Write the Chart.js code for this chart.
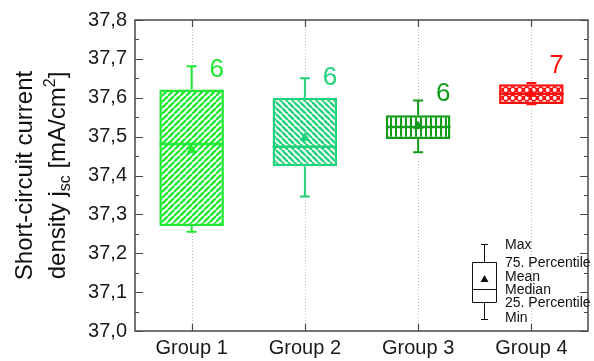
<!DOCTYPE html>
<html>
<head>
<meta charset="utf-8">
<script src="https://cdn.jsdelivr.net/npm/chart.js@4/dist/chart.umd.min.js"></script>
<style>
  html, body { margin: 0; padding: 0; background: #ffffff; }
  #wrap { width: 594px; height: 361px; }
</style>
</head>
<body>
<div id="wrap"><canvas id="c" width="594" height="361"></canvas></div>
<script>
// ---- data ----
const groups      = ['Group 1', 'Group 2', 'Group 3', 'Group 4'];
const minVals     = [37.255, 37.346, 37.460, 37.583];
const q1Vals      = [37.270, 37.424, 37.494, 37.584];
const medianVals  = [37.481, 37.474, 37.525, 37.610];
const meanVals    = [37.465, 37.497, 37.527, 37.610];
const q3Vals      = [37.621, 37.600, 37.555, 37.635];
const maxVals     = [37.681, 37.650, 37.593, 37.638];
const counts      = ['6', '6', '6', '7'];
const countLabelY = [37.673, 37.652, 37.609, 37.683];
const yMin = 37.0, yMax = 37.8, yStep = 0.1, yMinorStep = 0.05;
const legendLabels = ['Max', '75. Percentile', 'Mean', 'Median', '25. Percentile', 'Min'];

const colors   = ['#1fe833', '#20d27a', '#109c18', '#ff0e0e'];
const hatches  = ['fwd', 'back', 'vert', 'dots'];
const FONT = "'Liberation Sans', Arial, sans-serif";

const canvas = document.getElementById('c');
const ctx = canvas.getContext('2d');

function makePattern(color, kind) {
  const t = document.createElement('canvas');
  let w = 6, h = 6;
  if (kind === 'vert') { w = 5; h = 5; }
  if (kind === 'dots') { w = 7; h = 8; }
  t.width = w; t.height = h;
  const g = t.getContext('2d');
  g.fillStyle = '#ffffff'; g.fillRect(0, 0, w, h);
  g.strokeStyle = color; g.fillStyle = color; g.lineWidth = 2.3;
  if (kind === 'fwd') {
    g.beginPath();
    for (const o of [-w, 0, w]) { g.moveTo(o, h); g.lineTo(o + w, 0); }
    g.stroke();
  } else if (kind === 'back') {
    g.beginPath();
    for (const o of [-w, 0, w]) { g.moveTo(o, 0); g.lineTo(o + w, h); }
    g.stroke();
  } else if (kind === 'vert') {
    g.fillRect(0, 0, 2, h);
  } else if (kind === 'dots') {
    g.fillRect(0, 0, w, h);
    g.fillStyle = '#ffffff';
    g.beginPath(); g.arc(1.75, 2, 1.9, 0, Math.PI * 2); g.fill();
    g.beginPath(); g.arc(5.25, 6, 1.9, 0, Math.PI * 2); g.fill();
  }
  return ctx.createPattern(t, 'repeat');
}
const patterns = colors.map((c, i) => makePattern(c, hatches[i]));

const FRAME = '#4a4a4a';

const boxPlugin = {
  id: 'boxExtras',
  beforeDatasetsDraw(chart) {
    const { ctx, chartArea: a, scales: { x } } = chart;
    ctx.save();
    ctx.strokeStyle = '#bdbdbd';
    ctx.lineWidth = 1;
    ctx.setLineDash([1, 2]);
    groups.forEach((g, i) => {
      const px = Math.round(x.getPixelForValue(i)) + 0.5;
      ctx.beginPath(); ctx.moveTo(px, a.top); ctx.lineTo(px, a.bottom); ctx.stroke();
    });
    ctx.restore();
  },
  afterDatasetDraw(chart, args) {
    if (args.index !== 0) return;
    const { ctx, scales: { x, y } } = chart;
    const meta = chart.getDatasetMeta(0);
    ctx.save();
    groups.forEach((g, i) => {
      const bar = meta.data[i];
      const cx = x.getPixelForValue(i);
      const half = bar.width / 2;
      ctx.strokeStyle = colors[i];
      // median
      ctx.lineWidth = 2.5;
      const my = y.getPixelForValue(medianVals[i]);
      ctx.beginPath(); ctx.moveTo(cx - half, my); ctx.lineTo(cx + half, my); ctx.stroke();
      // whiskers
      ctx.lineWidth = 2;
      const yq3 = y.getPixelForValue(q3Vals[i]);
      const yq1 = y.getPixelForValue(q1Vals[i]);
      const ymax = y.getPixelForValue(maxVals[i]);
      const ymin = y.getPixelForValue(minVals[i]);
      ctx.beginPath();
      ctx.moveTo(cx, yq3); ctx.lineTo(cx, ymax);
      ctx.moveTo(cx - 5, ymax); ctx.lineTo(cx + 5, ymax);
      ctx.moveTo(cx, yq1); ctx.lineTo(cx, ymin);
      ctx.moveTo(cx - 5, ymin); ctx.lineTo(cx + 5, ymin);
      ctx.stroke();
    });
    ctx.restore();
  },
  afterDraw(chart) {
    const { ctx, chartArea: a, scales: { x, y } } = chart;
    ctx.save();
    // frame
    ctx.strokeStyle = FRAME;
    ctx.lineWidth = 1.5;
    ctx.strokeRect(a.left, a.top, a.right - a.left, a.bottom - a.top);
    // y ticks (inward), left and right
    ctx.lineWidth = 1.2;
    ctx.beginPath();
    for (let v = yMin; v <= yMax + 1e-9; v += yMinorStep) {
      const k = Math.round((v - yMin) / yMinorStep);
      const major = k % 2 === 0;
      const py = Math.round(y.getPixelForValue(yMin + k * yMinorStep)) + 0.5;
      const len = major ? 8 : 4;
      ctx.moveTo(a.left, py); ctx.lineTo(a.left + len, py);
      ctx.moveTo(a.right, py); ctx.lineTo(a.right - len, py);
    }
    // x ticks top/bottom (inward)
    groups.forEach((g, i) => {
      const px = Math.round(x.getPixelForValue(i)) + 0.5;
      ctx.moveTo(px, a.top); ctx.lineTo(px, a.top + 7);
      ctx.moveTo(px, a.bottom); ctx.lineTo(px, a.bottom - 7);
    });
    ctx.stroke();

    // count labels
    ctx.font = '26px ' + FONT;
    ctx.textAlign = 'center';
    ctx.textBaseline = 'middle';
    groups.forEach((g, i) => {
      ctx.fillStyle = colors[i];
      ctx.fillText(counts[i], x.getPixelForValue(i) + 25, y.getPixelForValue(countLabelY[i]));
    });

    // legend key (bottom right inside plot)
    const lx = a.right - 104, lb = a.bottom;
    ctx.strokeStyle = '#111'; ctx.fillStyle = '#111'; ctx.lineWidth = 1;
    ctx.beginPath();
    ctx.moveTo(lx + 0.5, lb - 87); ctx.lineTo(lx + 0.5, lb - 69);
    ctx.moveTo(lx - 3, lb - 87 + 0.5); ctx.lineTo(lx + 4, lb - 87 + 0.5);
    ctx.moveTo(lx + 0.5, lb - 29); ctx.lineTo(lx + 0.5, lb - 12);
    ctx.moveTo(lx - 3, lb - 12 + 0.5); ctx.lineTo(lx + 4, lb - 12 + 0.5);
    ctx.rect(lx - 11.5, lb - 69 + 0.5, 24, 40);
    ctx.moveTo(lx - 11.5, lb - 42 + 0.5); ctx.lineTo(lx + 12.5, lb - 42 + 0.5);
    ctx.stroke();
    ctx.beginPath();
    ctx.moveTo(lx + 0.5, lb - 56); ctx.lineTo(lx + 4.5, lb - 49); ctx.lineTo(lx - 3.5, lb - 49); ctx.closePath();
    ctx.fill();
    ctx.font = '14px ' + FONT;
    ctx.textAlign = 'left';
    ctx.textBaseline = 'middle';
    const ly = [-86, -68, -54, -41, -28, -13];
    legendLabels.forEach((t, i) => ctx.fillText(t, a.right - 83, lb + ly[i]));

    // y-axis title (two lines, rotated)
    const cy = (a.top + a.bottom) / 2;
    ctx.fillStyle = '#111';
    ctx.textBaseline = 'alphabetic';
    ctx.save();
    ctx.translate(32, cy);
    ctx.rotate(-Math.PI / 2);
    ctx.font = '24px ' + FONT;
    ctx.textAlign = 'center';
    ctx.fillText('Short-circuit current', 0, 0);
    ctx.restore();

    ctx.save();
    ctx.translate(65, cy);
    ctx.rotate(-Math.PI / 2);
    const parts = [
      { t: 'density j', s: 24, dy: 0 },
      { t: 'sc', s: 16, dy: 5 },
      { t: ' [mA/cm', s: 24, dy: 0 },
      { t: '2', s: 16, dy: -10 },
      { t: ']', s: 24, dy: 0 }
    ];
    let total = 0;
    parts.forEach(p => { ctx.font = p.s + 'px ' + FONT; p.w = ctx.measureText(p.t).width; total += p.w; });
    let px = -total / 2;
    ctx.textAlign = 'left';
    parts.forEach(p => { ctx.font = p.s + 'px ' + FONT; ctx.fillText(p.t, px, p.dy); px += p.w; });
    ctx.restore();

    ctx.restore();
  }
};

new Chart(ctx, {
  type: 'bar',
  data: {
    labels: groups,
    datasets: [
      {
        type: 'bar',
        data: groups.map((g, i) => [q1Vals[i], q3Vals[i]]),
        backgroundColor: patterns,
        borderColor: colors,
        borderWidth: 2.5,
        borderSkipped: false,
        barPercentage: 0.57,
        categoryPercentage: 1,
        order: 2
      },
      {
        type: 'line',
        data: meanVals,
        showLine: false,
        pointStyle: 'triangle',
        pointRadius: 5,
        pointBackgroundColor: colors,
        pointBorderColor: colors,
        pointBorderWidth: 1,
        order: 1
      }
    ]
  },
  options: {
    responsive: false,
    devicePixelRatio: 1,
    animation: false,
    layout: { padding: { top: 17, right: 1, left: 0, bottom: 0 } },
    plugins: { legend: { display: false }, tooltip: { enabled: false } },
    scales: {
      x: {
        offset: true,
        grid: { display: false, drawTicks: false, tickLength: 0 },
        border: { display: false },
        ticks: { font: { size: 20, family: FONT }, color: '#1a1a1a', padding: 5, maxRotation: 0 },
        afterFit(s) { s.height = 30; }
      },
      y: {
        min: yMin, max: yMax,
        grid: { display: false, drawTicks: false, tickLength: 0 },
        border: { display: false },
        ticks: {
          stepSize: yStep,
          padding: 8,
          font: { size: 20, family: FONT },
          color: '#1a1a1a',
          callback: v => Number(v).toFixed(1).replace('.', ',')
        },
        afterFit(s) { s.width = 135; }
      }
    }
  },
  plugins: [boxPlugin]
});
</script>
</body>
</html>
